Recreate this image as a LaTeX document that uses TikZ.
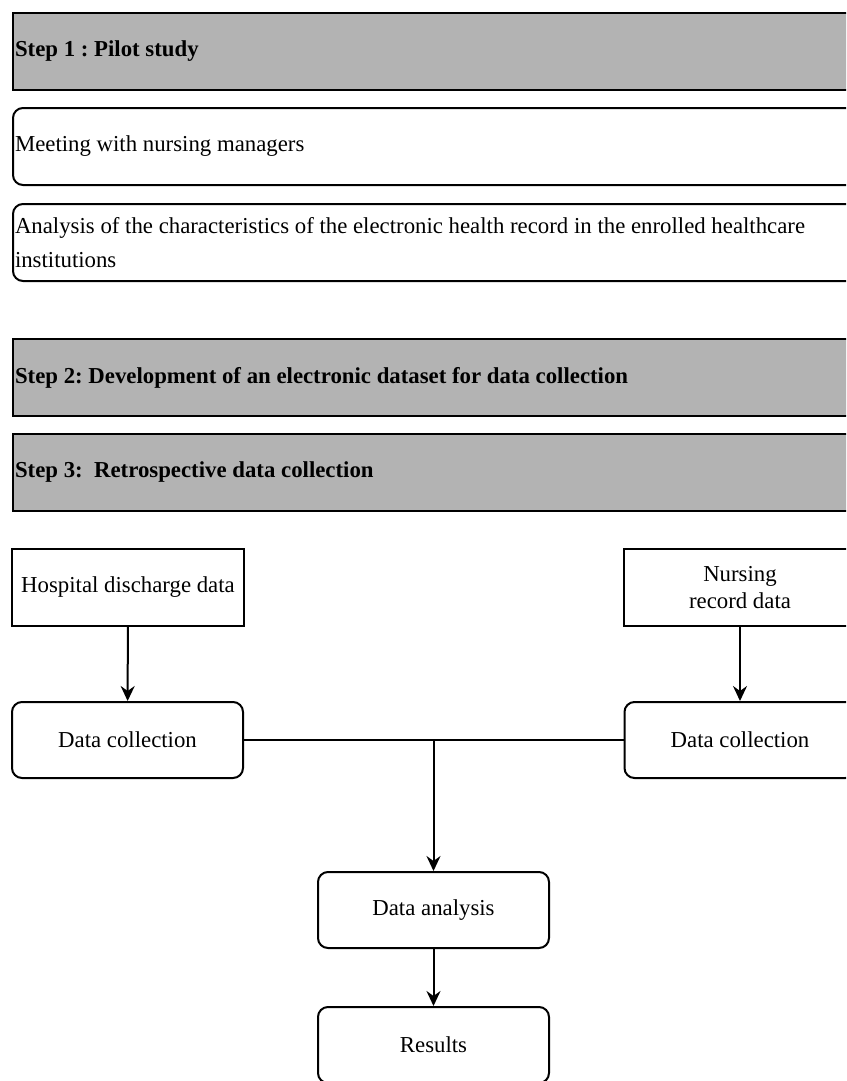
\documentclass[tikz,border=0pt]{standalone}
\usepackage{fontspec}
\setmainfont{Liberation Serif}
\usetikzlibrary{arrows.meta}
\definecolor{stepgrey}{RGB}{179,179,179}

\begin{document}
\begin{tikzpicture}[x=1pt, y=-1pt, line width=2pt,
	every node/.style={font=\fontsize{22.8}{27}\selectfont\frenchspacing},
	stepbar/.style={draw, fill=stepgrey, anchor=north west, minimum width=880, minimum height=77, text width=876, align=flush left, inner xsep=2pt, font=\fontsize{22.8}{27}\selectfont\frenchspacing\bfseries},
	taskbar/.style={draw, rounded corners=10pt, anchor=north west, minimum width=880, minimum height=77, text width=876, align=flush left, inner xsep=2pt},
	sourcebox/.style={draw, minimum width=232, minimum height=77, align=center},
	stagebox/.style={draw, rounded corners=10pt, minimum width=231, minimum height=76, align=center},
	arr/.style={-{Stealth[length=15pt, width=14pt, inset=5pt]}}]
	\useasboundingbox (0,0) rectangle (846,1081);
	\clip (0,0) rectangle (846,1081);
	
	\node[stepbar] (pilot) at (12,12) {Step 1 : Pilot study};
	\node[taskbar] (meet) at (12,107) {Meeting with nursing managers};
	\node[taskbar, font=\fontsize{22.8}{34}\selectfont\frenchspacing] (ehr) at (12,203) {Analysis of the characteristics of the electronic health record in the enrolled healthcare\\institutions};
	\node[stepbar] (dataset) at (12,338) {Step 2: Development of an electronic dataset for data collection};
	\node[stepbar] (retro) at (12,433) {Step 3:~ Retrospective data collection};
	
	\node[sourcebox] (hosp) at (128,587.5) {Hospital discharge data};
	\node[sourcebox] (nurse) at (740,587.5) {Nursing\\record data};
	
	\node[stagebox] (collectL) at (127.5,740) {Data collection};
	\node[stagebox] (collectR) at (740,740) {Data collection};
	\node[stagebox] (analysis) at (433.5,910) {Data analysis};
	\node[stagebox] (results) at (433.5,1045) {Results};
	
	\draw[arr] (hosp) -- (collectL);
	\draw[arr] (nurse) -- (collectR);
	\draw (collectL) -- (collectR);
	\draw[arr] (collectL.east -| analysis.north) -- (analysis);
	\draw[arr] (analysis) -- (results);
	
\end{tikzpicture}
\end{document}
